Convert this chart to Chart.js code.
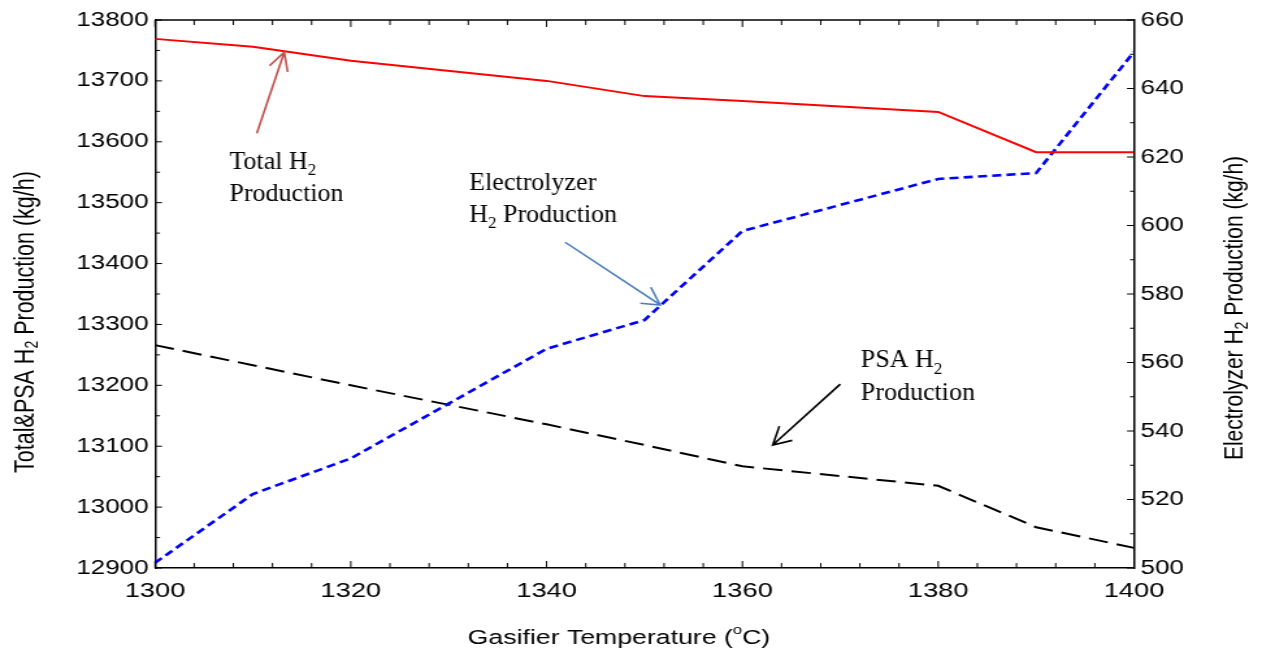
<!DOCTYPE html>
<html>
<head>
<meta charset="utf-8">
<script src="https://cdn.jsdelivr.net/npm/chart.js@4.4.1/dist/chart.umd.min.js"></script>
<style>
  html, body { margin: 0; padding: 0; background: #fff; overflow: hidden; }
  #wrap { width: 1262px; height: 654px; overflow: hidden; }
  /* the source plot is a horizontally stretched image, so the canvas is stretched the same way */
  #c { display: block; transform: scaleX(1.29969); transform-origin: 0 0; }
</style>
</head>
<body>
<div id="wrap"><canvas id="c" width="971" height="654"></canvas></div>
<script>
var S = 1262 / 971;

// gasifier temperature (C)
var temps = [1300, 1310, 1320, 1340, 1350, 1360, 1380, 1390, 1400];
// kg/h, left axis
var totalH2 = [13769, 13756, 13733, 13700, 13675, 13667, 13649, 13583, 13583];
var psaH2 = [13266, 13233, 13200, 13136, 13102, 13067, 13035, 12967, 12933];
// kg/h, right axis
var electrolyzerH2 = [501.5, 521.6, 532, 564, 572.4, 598.4, 613.6, 615.3, 650.7];

var xTicks = [1300, 1320, 1340, 1360, 1380, 1400];
var leftTicks = [12900, 13000, 13100, 13200, 13300, 13400, 13500, 13600, 13700, 13800];
var rightTicks = [500, 520, 540, 560, 580, 600, 620, 640, 660];

var sans = "'Liberation Sans', Arial, sans-serif";
var serif = "'Liberation Serif', 'Times New Roman', serif";

// text notes and arrows, placed in data units of the x / left y axes
var notes = [
  { x: 1307.6, y: 13556, parts: [{ t: 'Total H' }, { t: '2', sub: true }] },
  { x: 1307.6, y: 13503, parts: [{ t: 'Production' }] },
  { x: 1332.1, y: 13521, parts: [{ t: 'Electrolyzer' }] },
  { x: 1332.1, y: 13469, parts: [{ t: 'H' }, { t: '2', sub: true }, { t: ' Production' }] },
  { x: 1372.1, y: 13230, parts: [{ t: 'PSA H' }, { t: '2', sub: true }] },
  { x: 1372.1, y: 13176, parts: [{ t: 'Production' }] }
];
var arrows = [
  { from: [1310.4, 13614], to: [1313.2, 13747], color: '#c0504d' },
  { from: [1341.9, 13435], to: [1351.6, 13332], color: '#4a7ebb' },
  { from: [1370.0, 13202], to: [1363.1, 13102], color: '#000000' }
];

function pts(ys) {
  return temps.map(function (t, i) { return { x: t, y: ys[i] }; });
}

function drawRich(ctx, parts, size, family, align) {
  var small = Math.round(size * 0.65);
  var w = 0;
  parts.forEach(function (p) {
    ctx.font = ((p.sub || p.sup) ? small : size) + 'px ' + family;
    p.w = ctx.measureText(p.t).width;
    w += p.w;
  });
  var x = align === 'center' ? -w / 2 : 0;
  parts.forEach(function (p) {
    ctx.font = ((p.sub || p.sup) ? small : size) + 'px ' + family;
    var dy = p.sub ? size * 0.25 : (p.sup ? -size * 0.38 : 0);
    ctx.fillText(p.t, x, dy);
    x += p.w;
  });
}

var framePlugin = {
  id: 'frame',
  afterDraw: function (chart) {
    var ctx = chart.ctx;
    var a = chart.chartArea;
    var xs = chart.scales.x, yl = chart.scales.y, yr = chart.scales.y1;
    ctx.save();
    ctx.strokeStyle = '#000';

    // top frame line
    ctx.lineWidth = 1.5;
    ctx.beginPath();
    ctx.moveTo(a.left, a.top);
    ctx.lineTo(a.right, a.top);
    ctx.stroke();

    // inward tick marks, major and minor
    ctx.lineWidth = 1;
    ctx.beginPath();
    var v, p, L;
    for (v = 1300; v <= 1400; v += 4) {
      p = xs.getPixelForValue(v);
      L = (v % 20 === 0) ? 7 : 5;
      ctx.moveTo(p, a.bottom); ctx.lineTo(p, a.bottom - L);
      ctx.moveTo(p, a.top); ctx.lineTo(p, a.top + L);
    }
    for (v = 12900; v <= 13800; v += 50) {
      p = yl.getPixelForValue(v);
      L = (v % 100 === 0) ? 7 : 5;
      ctx.moveTo(a.left, p); ctx.lineTo(a.left + L / S, p);
    }
    for (v = 500; v <= 660; v += 10) {
      p = yr.getPixelForValue(v);
      L = (v % 20 === 0) ? 7 : 4;
      ctx.moveTo(a.right, p); ctx.lineTo(a.right - L / S, p);
    }
    ctx.stroke();

    // axis titles
    ctx.fillStyle = '#000';
    ctx.textBaseline = 'middle';
    ctx.textAlign = 'left';
    ctx.save();
    ctx.translate(25.5 / S, (a.top + a.bottom) / 2 + 28);
    ctx.rotate(-Math.PI / 2);
    drawRich(ctx, [{ t: 'Total&PSA H' }, { t: '2', sub: true }, { t: ' Production (kg/h)' }], 21.5, sans, 'center');
    ctx.restore();

    ctx.save();
    ctx.translate(1235.5 / S, (a.top + a.bottom) / 2 + 14);
    ctx.rotate(-Math.PI / 2);
    drawRich(ctx, [{ t: 'Electrolyzer H' }, { t: '2', sub: true }, { t: ' Production (kg/h)' }], 21, sans, 'center');
    ctx.restore();

    ctx.save();
    ctx.translate(619 / S, 638);
    drawRich(ctx, [{ t: 'Gasifier Temperature (' }, { t: 'o', sup: true }, { t: 'C)' }], 20.5, sans, 'center');
    ctx.restore();

    // arrows (shape worked out in unstretched screen space)
    arrows.forEach(function (ar) {
      var fx = xs.getPixelForValue(ar.from[0]), fy = yl.getPixelForValue(ar.from[1]);
      var tx = xs.getPixelForValue(ar.to[0]), ty = yl.getPixelForValue(ar.to[1]);
      var ang = Math.atan2(ty - fy, (tx - fx) * S);
      var len = 20, spread = 0.5;
      ctx.strokeStyle = ar.color;
      ctx.lineWidth = 1.6;
      ctx.beginPath();
      ctx.moveTo(fx, fy); ctx.lineTo(tx, ty);
      ctx.moveTo(tx - len * Math.cos(ang - spread) / S, ty - len * Math.sin(ang - spread));
      ctx.lineTo(tx, ty);
      ctx.lineTo(tx - len * Math.cos(ang + spread) / S, ty - len * Math.sin(ang + spread));
      ctx.stroke();
    });

    // note text is not stretched in the source
    ctx.textBaseline = 'alphabetic';
    notes.forEach(function (n) {
      ctx.save();
      ctx.translate(xs.getPixelForValue(n.x), yl.getPixelForValue(n.y));
      ctx.scale(1 / S, 1);
      drawRich(ctx, n.parts, 26, serif, 'left');
      ctx.restore();
    });
    ctx.restore();
  }
};

var ctx = document.getElementById('c').getContext('2d');

var chart = new Chart(ctx, {
  type: 'line',
  data: {
    datasets: [{
      label: 'Total H2 Production',
      data: pts(totalH2),
      yAxisID: 'y',
      borderColor: '#ff0000',
      borderWidth: 2
    }, {
      label: 'Electrolyzer H2 Production',
      data: pts(electrolyzerH2),
      yAxisID: 'y1',
      borderColor: '#0000ff',
      borderWidth: 2.6,
      borderDash: [7, 4]
    }, {
      label: 'PSA H2 Production',
      data: pts(psaH2),
      yAxisID: 'y',
      borderColor: '#000000',
      borderWidth: 2,
      borderDash: [15, 7]
    }]
  },
  options: {
    responsive: false,
    animation: false,
    devicePixelRatio: 1,
    layout: { padding: { top: 20, left: 0, right: 0, bottom: 0 } },
    elements: { point: { radius: 0 }, line: { tension: 0 } },
    plugins: { legend: { display: false }, tooltip: { enabled: false } },
    scales: {
      x: {
        type: 'linear', min: 1300, max: 1400,
        afterBuildTicks: function (s) { s.ticks = xTicks.map(function (v) { return { value: v }; }); },
        afterFit: function (s) { s.height = 86; },
        ticks: {
          padding: 11, color: '#000', maxRotation: 0,
          font: { family: sans, size: 21 },
          callback: function (v) { return String(v); }
        },
        grid: { display: false, drawTicks: false },
        border: { display: true, color: '#000', width: 1.5 }
      },
      y: {
        position: 'left', min: 12900, max: 13800,
        afterBuildTicks: function (s) { s.ticks = leftTicks.map(function (v) { return { value: v }; }); },
        afterFit: function (s) { s.width = 155 / S; },
        ticks: {
          padding: 5, color: '#000',
          font: { family: sans, size: 20 },
          callback: function (v) { return String(v); }
        },
        grid: { display: false, drawTicks: false },
        border: { display: true, color: '#000', width: 1.5 }
      },
      y1: {
        position: 'right', min: 500, max: 660,
        afterBuildTicks: function (s) { s.ticks = rightTicks.map(function (v) { return { value: v }; }); },
        afterFit: function (s) { s.width = 971 - 1134 / S; },
        ticks: {
          padding: 5, color: '#000',
          font: { family: sans, size: 20 },
          callback: function (v) { return String(v); }
        },
        grid: { display: false, drawTicks: false },
        border: { display: true, color: '#000', width: 1.5 }
      }
    }
  },
  plugins: [framePlugin]
});
</script>
</body>
</html>
